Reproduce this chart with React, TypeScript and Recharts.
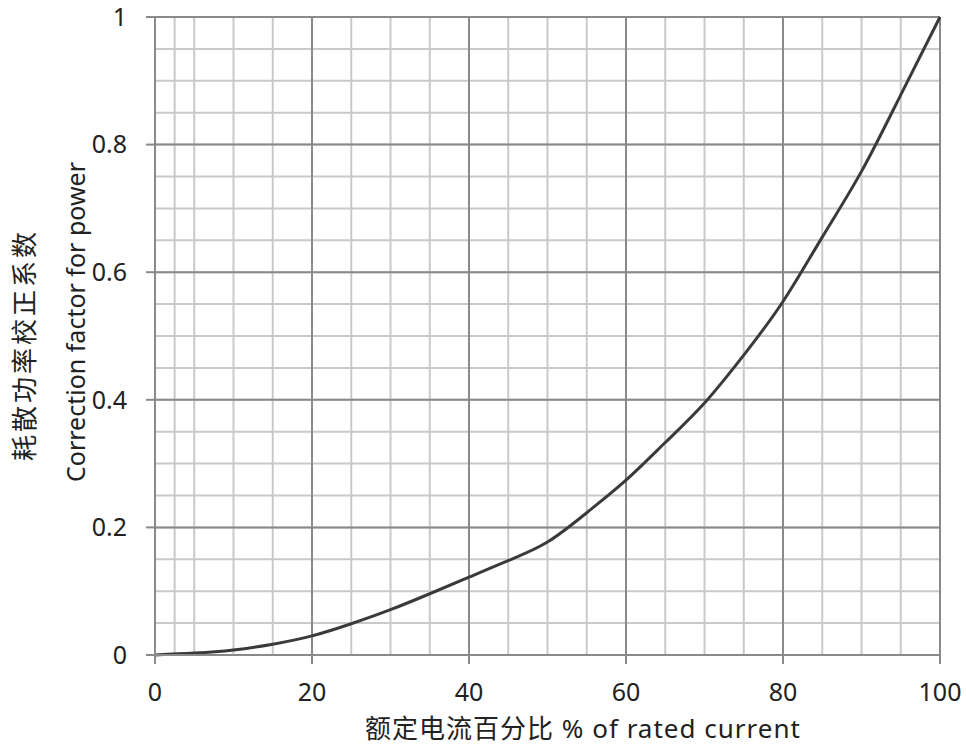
import { LineChart, Line, XAxis, YAxis, CartesianGrid, Label } from 'recharts';

// % of rated current vs correction factor
const currentPct = [0, 5, 10, 15, 20, 25, 30, 35, 40, 45, 50, 55, 60, 65, 70, 75, 80, 85, 90, 95, 100];
const factor = [
  0, 0.003, 0.008, 0.017, 0.03, 0.049, 0.071, 0.096, 0.122, 0.148, 0.177, 0.223, 0.274, 0.333, 0.395,
  0.47, 0.554, 0.655, 0.758, 0.878, 1.0,
];

const xTicks = [0, 20, 40, 60, 80, 100];
const yTicks = [0, 0.2, 0.4, 0.6, 0.8, 1];

const xLabel = '额定电流百分比 % of rated current';
const yLabelCn = '耗散功率校正系数';
const yLabelEn = 'Correction factor for power';

const data = currentPct.map((x, i) => ({ x, y: factor[i] }));

// minor grid: every 2.5 % and every 0.05
const xMinor = Array.from({ length: 41 }, (_, i) => i * 2.5);
const yMinor = Array.from({ length: 21 }, (_, i) => Math.round(i * 5) / 100);

const FONT = '"Noto Sans", "Noto Sans CJK SC", sans-serif';
const MAJOR = '#8a8a8a';
const MINOR = '#c9c9c9';
const TEXT = '#222';

function YTitle() {
  return (
    <g fontFamily={FONT} fill={TEXT}>
      <text
        x={24}
        y={345}
        fontSize={26}
        letterSpacing={3}
        textAnchor="middle"
        dominantBaseline="central"
        transform="rotate(-90 24 345)"
      >
        {yLabelCn}
      </text>
      <text
        x={75}
        y={322}
        fontSize={25}
        textAnchor="middle"
        dominantBaseline="central"
        transform="rotate(-90 75 322)"
      >
        {yLabelEn}
      </text>
    </g>
  );
}

function XTitle() {
  return (
    <text x={583} y={738} textAnchor="middle" fontFamily={FONT} fontSize={26} letterSpacing={1} fill={TEXT}>
      {xLabel}
    </text>
  );
}

export default function App() {
  return (
    <div style={{ position: 'absolute', left: 0, top: 0, width: 966, height: 747, fontFamily: FONT }}>
      <LineChart width={966} height={747} data={data} margin={{ top: 17, right: 26, left: 0, bottom: 0 }}>
        <CartesianGrid stroke={MINOR} strokeWidth={2} verticalValues={xMinor} horizontalValues={yMinor} />
        <CartesianGrid stroke={MAJOR} strokeWidth={2} verticalValues={xTicks} horizontalValues={yTicks} />
        <XAxis
          dataKey="x"
          type="number"
          domain={[0, 100]}
          ticks={xTicks}
          height={92}
          tickSize={9}
          tickMargin={19}
          axisLine={{ stroke: MAJOR, strokeWidth: 2 }}
          tickLine={{ stroke: MAJOR, strokeWidth: 2 }}
          tick={{ fontSize: 25, fill: TEXT, fontFamily: FONT }}
        >
          <Label content={<XTitle />} />
        </XAxis>
        <YAxis
          type="number"
          domain={[0, 1]}
          ticks={yTicks}
          width={155}
          tickSize={9}
          tickMargin={19}
          axisLine={{ stroke: MAJOR, strokeWidth: 2 }}
          tickLine={{ stroke: MAJOR, strokeWidth: 2 }}
          tick={{ fontSize: 25, fill: TEXT, fontFamily: FONT }}
        >
          <Label content={<YTitle />} />
        </YAxis>
        <Line
          dataKey="y"
          type="natural"
          stroke="#3a3a3a"
          strokeWidth={3}
          dot={false}
          isAnimationActive={false}
        />
      </LineChart>
    </div>
  );
}
